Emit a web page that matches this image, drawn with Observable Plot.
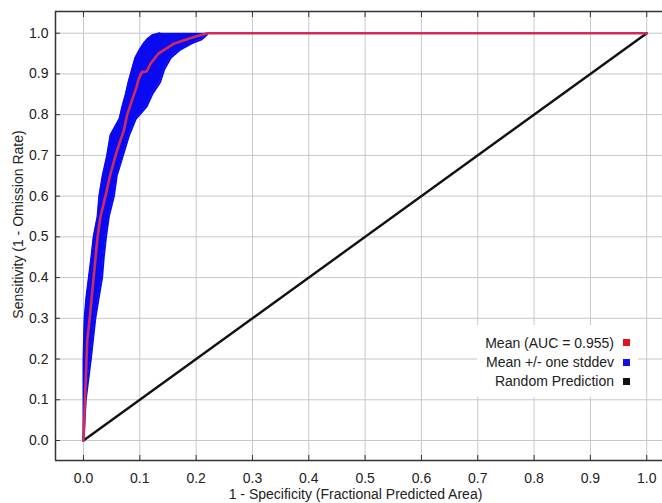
<!DOCTYPE html>
<html>
<head>
<meta charset="utf-8">
<script src="https://cdn.jsdelivr.net/npm/d3@7"></script>
<script src="https://cdn.jsdelivr.net/npm/@observablehq/plot@0.6"></script>
<style>
  html, body { margin: 0; padding: 0; background: #fff; }
  #wrap { position: relative; width: 662px; height: 503px; font-family: "Liberation Sans", Arial, sans-serif; }
  #legend { position: absolute; left: 477px; top: 325px; width: 161px; height: 72px; background: #fff; }
  .row { position: absolute; right: 24px; height: 16px; line-height: 16px; font-size: 14px; color: #222; white-space: nowrap; }
  .sq { position: absolute; left: 146px; width: 7px; height: 7px; }
</style>
</head>
<body>
<div id="wrap"></div>
<script>
// ---- data ----
const ticks = [0, 0.1, 0.2, 0.3, 0.4, 0.5, 0.6, 0.7, 0.8, 0.9, 1.0];

// mean ROC curve (1 - specificity, sensitivity)
const meanX = [0, 0.0027, 0.0066, 0.011, 0.018, 0.025, 0.030, 0.039, 0.048, 0.057, 0.064, 0.0716, 0.0776, 0.088, 0.094, 0.098, 0.104, 0.112, 0.119, 0.133, 0.16, 0.195, 0.22, 1.0];
const meanY = [0, 0.1, 0.245, 0.3, 0.4, 0.5, 0.548, 0.6, 0.655, 0.7, 0.73, 0.761, 0.8, 0.843, 0.867, 0.888, 0.905, 0.906, 0.925, 0.95, 0.974, 0.99, 1.0, 1.0];

// mean +/- one stddev band: for each sensitivity, the x of the upper (left) and lower (right) curves
const bandY      = [0, 0.1, 0.2, 0.3, 0.35, 0.4, 0.45, 0.5, 0.55, 0.6, 0.65, 0.7, 0.75, 0.79, 0.82, 0.85, 0.88, 0.91, 0.94, 0.96, 0.975, 0.985, 0.995, 1.0];
const bandUpperX = [0, 0, 0, 0.002, 0.005, 0.0095, 0.014, 0.018, 0.025, 0.028, 0.034, 0.042, 0.048, 0.064, 0.069, 0.075, 0.080, 0.086, 0.092, 0.100, 0.107, 0.113, 0.122, 0.135];
const bandLowerX = [0, 0.004, 0.013, 0.021, 0.027, 0.033, 0.036, 0.040, 0.045, 0.054, 0.059, 0.070, 0.081, 0.093, 0.112, 0.122, 0.136, 0.143, 0.155, 0.172, 0.192, 0.210, 0.218, 0.221];

// random prediction
const randomX = [0, 1];
const randomY = [0, 1];

const legendLabels = ["Mean (AUC = 0.955)", "Mean +/- one stddev", "Random Prediction"];
const legendColors = ["#e0141e", "#1010e8", "#111111"];

const xTitle = "1 - Specificity (Fractional Predicted Area)";
const yTitle = "Sensitivity (1 - Omission Rate)";

const xDomain = [-0.0497, 1.028];
const yDomain = [-0.0491, 1.0533];

// ---- tables for the marks ----
const mean = meanX.map((x, i) => ({x, y: meanY[i]}));
const band = bandY.map((y, i) => ({y, x1: bandUpperX[i], x2: bandLowerX[i]}));
const random = randomX.map((x, i) => ({x, y: randomY[i]}));
const fmt = d3.format(".1f");

const chart = Plot.plot({
  width: 662,
  height: 503,
  marginLeft: 55,
  marginRight: 0,
  marginTop: 11,
  marginBottom: 43,
  x: {domain: xDomain},
  y: {domain: yDomain},
  style: {fontFamily: "Liberation Sans, Arial, sans-serif", fontSize: "14px", color: "#222", background: "#fff"},
  marks: [
    Plot.gridX(ticks, {stroke: "#c8c8c8", strokeOpacity: 1, strokeWidth: 1}),
    Plot.gridY(ticks, {stroke: "#c8c8c8", strokeOpacity: 1, strokeWidth: 1}),
    Plot.line(random, {x: "x", y: "y", stroke: "#111", strokeWidth: 2.4}),
    Plot.areaX(band, {y: "y", x1: "x1", x2: "x2", fill: "#0a0af2"}),
    Plot.line(band, {y: "y", x: "x1", stroke: "#0a0af2", strokeWidth: 2}),
    Plot.line(band, {y: "y", x: "x2", stroke: "#0a0af2", strokeWidth: 2}),
    Plot.line(mean, {x: "x", y: "y", stroke: "#cf2c5c", strokeWidth: 2.6}),
    Plot.ruleX([xDomain[0]], {stroke: "#333", strokeWidth: 1.5}),
    Plot.ruleY([yDomain[0], yDomain[1]], {stroke: "#333", strokeWidth: 1.5}),
    Plot.axisX(ticks, {anchor: "bottom", tickSize: -5, tickPadding: 18, tickFormat: fmt, label: null, stroke: "#333"}),
    Plot.axisX(ticks, {anchor: "top", tickSize: -5, tickFormat: () => "", label: null, stroke: "#333"}),
    Plot.axisY(ticks, {anchor: "left", tickSize: -5, tickPadding: 12, tickFormat: fmt, label: null, stroke: "#333"}),
    Plot.text([xTitle], {frameAnchor: "bottom", dy: 38.5, dx: -3.5, fill: "#222"}),
    Plot.text([yTitle], {frameAnchor: "left", textAnchor: "middle", dx: -37, dy: -11.5, rotate: -90, fill: "#222"})
  ]
});

const wrap = document.getElementById("wrap");
wrap.appendChild(chart);

// legend box (inside the plot, bottom right)
const legend = document.createElement("div");
legend.id = "legend";
const rowCenters = [17.5, 37, 56];
legendLabels.forEach((label, i) => {
  const row = document.createElement("div");
  row.className = "row";
  row.style.top = (rowCenters[i] - 8) + "px";
  row.textContent = label;
  legend.appendChild(row);
  const sq = document.createElement("div");
  sq.className = "sq";
  sq.style.top = (rowCenters[i] - 3.5) + "px";
  sq.style.background = legendColors[i];
  legend.appendChild(sq);
});
wrap.appendChild(legend);
</script>
</body>
</html>
